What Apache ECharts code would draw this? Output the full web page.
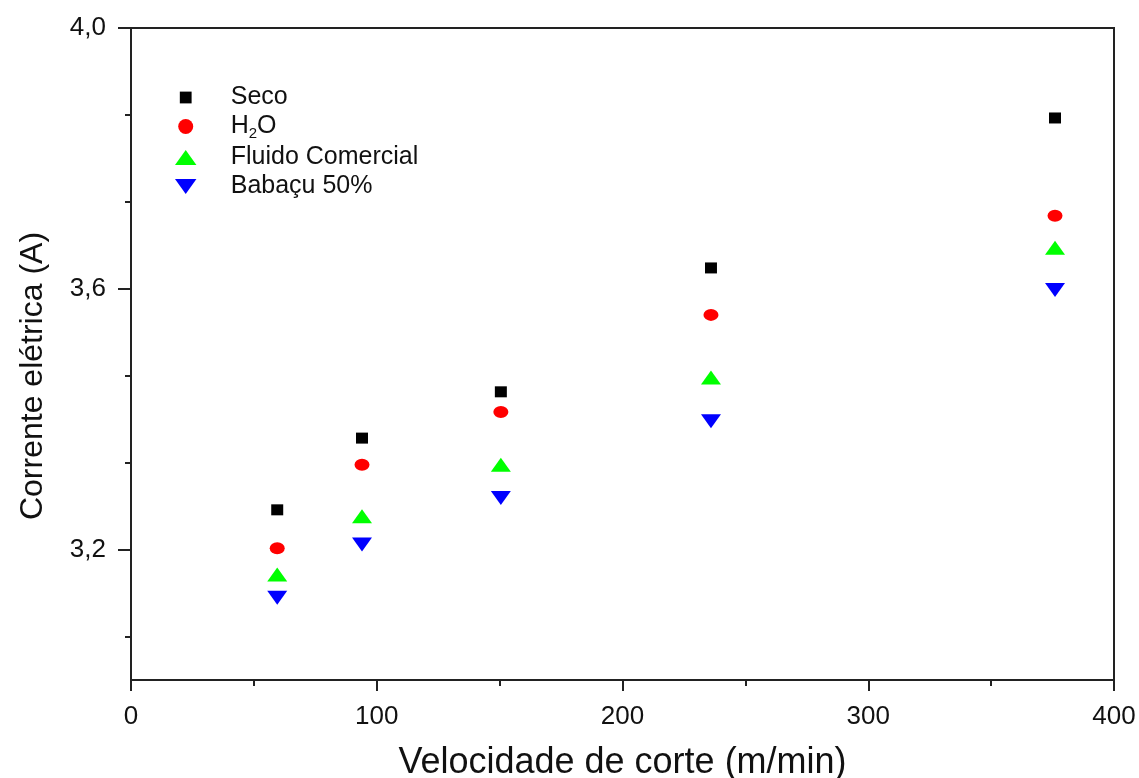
<!DOCTYPE html>
<html>
<head>
<meta charset="utf-8">
<script src="https://cdn.jsdelivr.net/npm/echarts@6/dist/echarts.min.js"></script>
<style>html,body{margin:0;padding:0;background:#fff}#c{width:1139px;height:778px}</style>
</head>
<body>
<div id="c"></div>
<script>
var speeds = [59.5, 94, 150.5, 236, 376];
var seco = [3.261, 3.371, 3.442, 3.632, 3.862];
var h2o = [3.202, 3.330, 3.411, 3.560, 3.712];
var fluido = [3.162, 3.251, 3.330, 3.464, 3.663];
var babacu = [3.126, 3.208, 3.279, 3.397, 3.598];
var seriesNames = ['Seco', 'H2O', 'Fluido Comercial', 'Babaçu 50%'];
var yMajorTicks = [3.2, 3.6, 4.0];
var yMinorTicks = [3.0667, 3.3333, 3.4667, 3.7333, 3.8667];
var xTitle = 'Velocidade de corte (m/min)';
var yTitle = 'Corrente elétrica (A)';

function pairs(ys) { return ys.map(function (v, i) { return [speeds[i], v]; }); }

var FONT = '"Liberation Sans", Arial, sans-serif';
var AX = '#222';
var downTri = 'path://M0,0 L20,0 L10,14 Z';
var upTri = 'path://M10,0 L20,14 L0,14 Z';
var legendSquare = 'path://M0,0 M1.5,1.5 L12.5,1.5 L12.5,12.5 L1.5,12.5 Z M14,14';

var chart = echarts.init(document.getElementById('c'), null, {renderer: 'canvas'});
chart.setOption({
  animation: false,
  backgroundColor: '#fff',
  grid: {left: 131, top: 28, right: 25, bottom: 98, show: true, borderColor: AX, borderWidth: 2,
         containLabel: false, outerBoundsMode: 'none'},
  legend: {
    orient: 'vertical', left: 170, top: 80, itemGap: 4, itemWidth: 80, itemHeight: 15,
    textStyle: {fontFamily: FONT, fontSize: 25, color: '#111',
      rich: {sub: {fontFamily: FONT, fontSize: 15, color: '#111', verticalAlign: 'bottom', padding: [14, 0, 0, 0]},
             n: {fontFamily: FONT, fontSize: 25, color: '#111'}}},
    formatter: function (name) { return name === 'H2O' ? '{n|H}{sub|2}{n|O}' : name; },
    data: [
      {name: seriesNames[0], icon: legendSquare},
      {name: seriesNames[1]},
      {name: seriesNames[2]},
      {name: seriesNames[3]}
    ]
  },
  xAxis: [{
    type: 'value', min: 0, max: 400, interval: 100,
    axisLine: {show: true, onZero: false, lineStyle: {color: AX, width: 2}},
    axisTick: {show: true, length: 11, lineStyle: {color: AX, width: 2}},
    minorTick: {show: true, splitNumber: 2, length: 6, lineStyle: {color: AX, width: 2}},
    splitLine: {show: false},
    axisLabel: {fontFamily: FONT, fontSize: 26, color: '#111', margin: 24},
    name: xTitle, nameLocation: 'middle', nameGap: 65,
    nameTextStyle: {fontFamily: FONT, fontSize: 36, color: '#111'}
  }],
  yAxis: [{
    type: 'value', min: 3.0, max: 4.0,
    axisLine: {show: true, onZero: false, lineStyle: {color: AX, width: 2}},
    axisTick: {show: true, length: 13, customValues: yMajorTicks, lineStyle: {color: AX, width: 2}},
    splitLine: {show: false},
    axisLabel: {fontFamily: FONT, fontSize: 26, color: '#111', margin: 25, customValues: yMajorTicks,
      formatter: function (v) { return v.toFixed(1).replace('.', ','); }},
    name: yTitle, nameLocation: 'middle', nameGap: 82,
    nameTextStyle: {fontFamily: FONT, fontSize: 32, color: '#111', padding: [0, 44, 0, 0]}
  }, {
    type: 'value', min: 3.0, max: 4.0, position: 'left',
    axisLine: {show: false},
    axisTick: {show: true, length: 6, customValues: yMinorTicks, lineStyle: {color: AX, width: 2}},
    axisLabel: {show: false},
    splitLine: {show: false}
  }],
  series: [
    {name: 'Seco', type: 'scatter', data: pairs(seco), symbol: 'rect', symbolSize: [12, 11], itemStyle: {color: '#000000', opacity: 1}},
    {name: 'H2O', type: 'scatter', data: pairs(h2o), symbol: 'circle', symbolSize: [15, 12], itemStyle: {color: '#ff0000', opacity: 1}},
    {name: 'Fluido Comercial', type: 'scatter', data: pairs(fluido), symbol: upTri, symbolSize: [20, 14], itemStyle: {color: '#00ff00', opacity: 1}},
    {name: 'Babaçu 50%', type: 'scatter', data: pairs(babacu), symbol: downTri, symbolSize: [20, 14], itemStyle: {color: '#0000ff', opacity: 1}}
  ]
});
</script>
</body>
</html>
